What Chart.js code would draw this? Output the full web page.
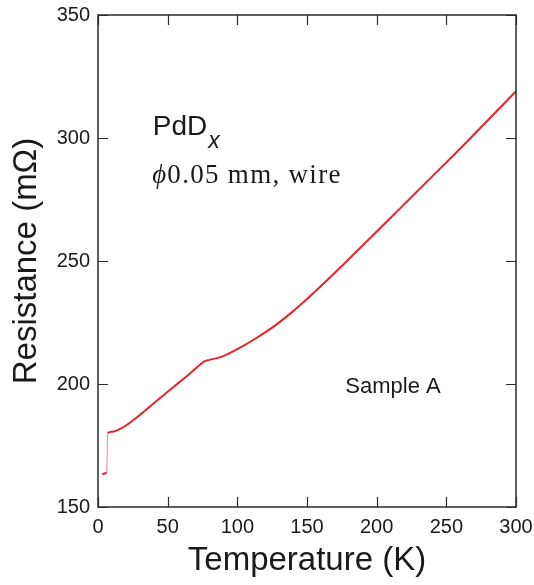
<!DOCTYPE html>
<html>
<head>
<meta charset="utf-8">
<script src="https://cdn.jsdelivr.net/npm/chart.js@4.4.1/dist/chart.umd.min.js"></script>
<style>
  html, body { margin: 0; padding: 0; background: #ffffff; }
  #wrap { width: 534px; height: 585px; position: relative; }
</style>
</head>
<body>
<div id="wrap"><canvas id="c" width="534" height="585"></canvas></div>
<script>
// ---- data ----
const temperatureK = [3, 6.2, 7, 10, 18, 30, 42, 54, 66, 74, 76, 80, 88, 102, 114, 126, 138, 149, 160, 175, 193, 217, 241, 265, 300];
const resistanceMOhm = [163.4, 164.0, 180.0, 180.6, 182.4, 187.4, 193.1, 198.7, 204.3, 208.2, 209.1, 209.8, 210.9, 214.8, 218.8, 223.3, 228.6, 234.0, 239.8, 248.0, 258.0, 271.5, 285.0, 298.6, 319.0];
const xTicks = [0, 50, 100, 150, 200, 250, 300];
const yTicks = [150, 200, 250, 300, 350];
const xTitle = 'Temperature (K)';
const yTitle = 'Resistance (m\u03A9)';
const labelMain = 'PdD';
const labelSub = 'x';
const labelPhi = '\u03D5';
const labelWire = '0.05 mm, wire';
const labelSample = 'Sample A';

const AX = '#2b2b2b';
const RED = '#e8222b';
const SANS = "Arial, 'Liberation Sans', Helvetica, sans-serif";
const SERIF = "'Times New Roman', 'Liberation Serif', serif";

const points = temperatureK.map((t, i) => ({ x: t, y: resistanceMOhm[i] }));
const isJump = c => (c.p1.parsed.y - c.p0.parsed.y) / Math.max(1e-6, c.p1.parsed.x - c.p0.parsed.x) > 5;

const framePlugin = {
  id: 'frame',
  afterDatasetsDraw(chart) {
    const { ctx, chartArea: a, scales: { x, y } } = chart;
    ctx.save();
    ctx.strokeStyle = AX;
    ctx.lineWidth = 1.5;
    ctx.strokeRect(a.left, a.top, a.right - a.left, a.bottom - a.top);
    ctx.lineWidth = 1.2;
    const L = 10;
    ctx.beginPath();
    xTicks.forEach(v => {
      const px = Math.round(x.getPixelForValue(v)) + 0.5;
      ctx.moveTo(px, a.bottom); ctx.lineTo(px, a.bottom - L);
      ctx.moveTo(px, a.top); ctx.lineTo(px, a.top + L);
    });
    yTicks.forEach(v => {
      const py = Math.round(y.getPixelForValue(v)) + 0.5;
      ctx.moveTo(a.left, py); ctx.lineTo(a.left + L, py);
      ctx.moveTo(a.right, py); ctx.lineTo(a.right - L, py);
    });
    ctx.stroke();

    // annotations positioned through the scales
    ctx.fillStyle = '#1a1a1a';
    ctx.textBaseline = 'alphabetic';
    ctx.textAlign = 'left';
    let px = x.getPixelForValue(39.3), py = y.getPixelForValue(301.2);
    ctx.font = '28px ' + SANS;
    ctx.fillText(labelMain, px, py);
    const w = ctx.measureText(labelMain).width;
    ctx.font = 'italic 23px ' + SANS;
    ctx.fillText(labelSub, px + w + 1, py + 13);

    px = x.getPixelForValue(39.0); py = y.getPixelForValue(281.7);
    ctx.font = 'italic 27px ' + SERIF;
    ctx.fillText(labelPhi, px, py);
    ctx.font = '27px ' + SERIF;
    ctx.letterSpacing = '1.3px';
    ctx.fillText(labelWire, px + 15, py);
    ctx.letterSpacing = '0px';

    px = x.getPixelForValue(177.5); py = y.getPixelForValue(196.3);
    ctx.font = '22px ' + SANS;
    ctx.fillText(labelSample, px, py);
    ctx.restore();
  }
};

new Chart(document.getElementById('c'), {
  type: 'scatter',
  data: {
    datasets: [{
      data: points,
      showLine: true,
      borderColor: RED,
      backgroundColor: RED,
      borderWidth: 2,
      pointRadius: 0,
      tension: 0,
      cubicInterpolationMode: 'monotone',
      segment: {
        borderColor: c => (isJump(c) ? 'rgba(232,34,43,0.55)' : undefined),
        borderWidth: c => (isJump(c) ? 1 : undefined)
      }
    }]
  },
  options: {
    responsive: false,
    animation: false,
    devicePixelRatio: 1,
    layout: { padding: { top: 15, right: 18, left: 0, bottom: 0 } },
    plugins: { legend: { display: false }, tooltip: { enabled: false } },
    scales: {
      x: {
        type: 'linear', min: 0, max: 300,
        afterBuildTicks: s => { s.ticks = xTicks.map(v => ({ value: v })); },
        afterFit: s => { s.height = 78; s.paddingLeft = 0; s.paddingRight = 0; },
        grid: { display: false, drawTicks: false },
        border: { display: false },
        ticks: { color: '#1a1a1a', font: { family: SANS, size: 20 }, padding: 8, maxRotation: 0 },
        title: { display: true, text: xTitle, color: '#1a1a1a', font: { family: SANS, size: 33 }, padding: { top: 6, bottom: 4 } }
      },
      y: {
        type: 'linear', min: 150, max: 350,
        afterBuildTicks: s => { s.ticks = yTicks.map(v => ({ value: v })); },
        afterFit: s => { s.width = 98; s.paddingTop = 0; s.paddingBottom = 0; },
        grid: { display: false, drawTicks: false },
        border: { display: false },
        ticks: { color: '#1a1a1a', font: { family: SANS, size: 20 }, padding: 8 },
        title: { display: true, text: yTitle, color: '#1a1a1a', font: { family: SANS, size: 33 }, padding: { top: 7, bottom: 6 } }
      }
    }
  },
  plugins: [framePlugin]
});
</script>
</body>
</html>
